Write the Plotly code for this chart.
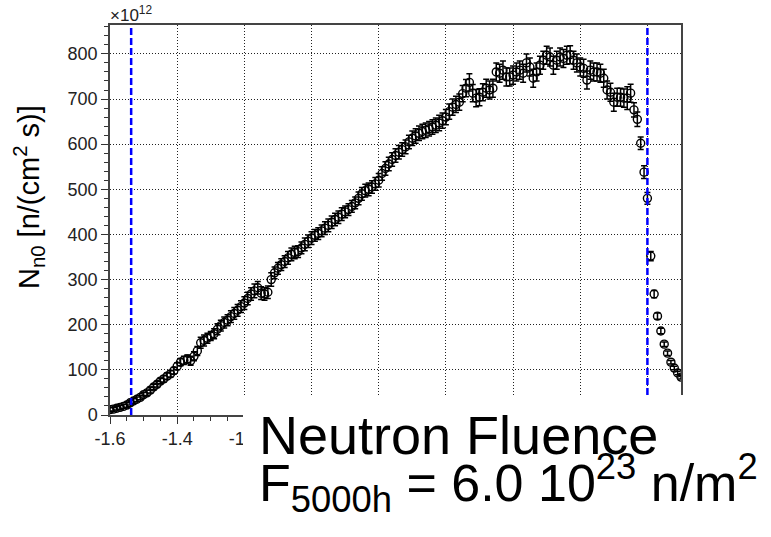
import plotly.graph_objects as go

# ---------------- data ----------------
x_start = -1.6
x_step = 0.01
flux = [
    12, 13, 15, 17, 19, 22, 27, 31, 35, 39,
    45, 49, 55, 62, 68, 75, 80, 86, 91, 98,
    108, 117, 121, 124, 120, 130, 142, 160, 165, 170,
    175, 180, 190, 198, 205, 210, 218, 225, 232, 240,
    248, 258, 268, 275, 282, 270, 268, 272, 300, 315,
    325, 333, 340, 348, 356, 360, 362, 370, 378, 385,
    392, 398, 402, 408, 414, 420, 427, 433, 438, 445,
    450, 455, 462, 470, 480, 490, 497, 500, 505, 512,
    520, 535, 546, 556, 566, 575, 582, 588, 594, 605,
    613, 618, 624, 628, 631, 634, 638, 642, 647, 652,
    660, 672, 682, 688, 693, 712, 724, 737, 713, 702,
    704, 715, 724, 720, 724, 760, 757, 764, 749, 749,
    753, 760, 764, 757, 780, 771, 746, 760, 775, 786,
    797, 793, 775, 786, 793, 790, 797, 798, 786, 780,
    771, 768, 742, 764, 760, 760, 757, 746, 720, 715,
    693, 704, 704, 702, 702, 713, 676, 655, 602, 538,
    480, 352, 268, 219, 186, 157, 137, 117, 104, 93,
    84,
]
flux_err = [
    4, 4, 4, 4, 4, 5, 5, 5, 5, 5,
    5, 6, 6, 6, 6, 6, 7, 7, 7, 7,
    8, 8, 9, 9, 10, 10, 10, 12, 12, 11,
    10, 11, 12, 12, 12, 12, 13, 13, 13, 13,
    14, 14, 14, 15, 14, 14, 14, 14, 15, 13,
    13, 13, 13, 14, 14, 14, 13, 13, 14, 14,
    14, 13, 13, 13, 14, 14, 14, 14, 14, 14,
    13, 13, 13, 13, 14, 14, 14, 14, 14, 14,
    15, 15, 15, 15, 15, 15, 15, 15, 15, 15,
    16, 16, 16, 16, 16, 16, 16, 16, 17, 17,
    17, 17, 18, 18, 18, 18, 19, 19, 19, 19,
    19, 19, 20, 20, 20, 20, 20, 20, 20, 20,
    20, 20, 20, 20, 20, 20, 20, 20, 20, 20,
    20, 20, 20, 20, 20, 20, 20, 20, 20, 20,
    20, 20, 20, 20, 20, 20, 20, 20, 20, 20,
    20, 20, 20, 20, 25, 20, 16, 16, 14, 14,
    13, 10, 8, 7, 6, 5, 5, 4, 4, 4,
    4,
]
x_pos = [round(x_start + x_step * i, 3) for i in range(len(flux))]

boundaries = [-1.537, 0.0]
x_tickvals = [-1.6, -1.4, -1.2, -1.0, -0.8, -0.6, -0.4, -0.2, 0.0]
# labels right of -1.2 are hidden behind the text box in the reference
x_ticktext = ["-1.6", "-1.4", "-1.2", "", "", "", "", "", ""]
y_tickvals = [0, 100, 200, 300, 400, 500, 600, 700, 800]

FONT = "Liberation Sans, Arial, Helvetica, sans-serif"
W, H = 771, 537
L, R, T, B = 110, 681, 25, 415


def px(xp):
    return (xp - L) / (R - L)


def py(yp):
    return (B - yp) / (B - T)


fig = go.Figure()
fig.add_trace(go.Scatter(
    x=x_pos, y=flux, mode="markers",
    marker=dict(symbol="circle-open", size=8, color="black", line=dict(width=1.4, color="black")),
    error_y=dict(type="data", array=flux_err, visible=True, color="black", thickness=1.5, width=3),
    showlegend=False, cliponaxis=True,
))

shapes = []
for b in boundaries:
    shapes.append(dict(type="line", xref="x", yref="paper", x0=b, x1=b, y0=0, y1=1,
                       line=dict(color="#0000ff", width=2.5, dash="7px,3px"), layer="above"))
# white box hiding the lower-right corner
shapes.append(dict(type="rect", xref="paper", yref="paper",
                   x0=px(243), x1=px(W + 5), y0=py(H + 5), y1=py(395),
                   fillcolor="white", line=dict(width=0), layer="above"))

annotations = [
    dict(text="N<sub>n0</sub> [n/(cm<sup>2</sup> s)]", textangle=-90,
         xref="paper", yref="paper", x=px(29), y=py(197), xanchor="center", yanchor="middle",
         showarrow=False, font=dict(family=FONT, size=29, color="black")),
    dict(text="\u00d710<sup>12</sup>", xref="paper", yref="paper", x=px(108), y=py(27),
         xanchor="left", yanchor="bottom", showarrow=False,
         font=dict(family=FONT, size=17, color="#222")),
    dict(text="Neutron Fluence", xref="paper", yref="paper", x=px(257), y=py(403),
         xanchor="left", yanchor="top", showarrow=False,
         font=dict(family=FONT, size=54, color="black")),
    dict(text="F<sub>5000h</sub> = 6.0 10<sup>23</sup> n/m<sup>2</sup>", xref="paper", yref="paper",
         x=px(257), y=py(522), xanchor="left", yanchor="bottom", showarrow=False,
         font=dict(family=FONT, size=52, color="black")),
]

axis_common = dict(showline=True, linecolor="#444", linewidth=1.5, mirror=True,
                   ticks="outside", tickcolor="#333", ticklen=7, tickwidth=1,
                   showgrid=True, gridcolor="#222", gridwidth=1, griddash="1px,2px",
                   zeroline=False, tickfont=dict(family=FONT, size=18, color="#222"))

fig.update_layout(
    width=W, height=H,
    margin=dict(l=L, r=W - R, t=T, b=H - B, pad=0),
    paper_bgcolor="white", plot_bgcolor="white",
    shapes=shapes, annotations=annotations,
    xaxis=dict(range=[-1.6, 0.1], tickmode="array", tickvals=x_tickvals, ticktext=x_ticktext,
               minor=dict(tick0=-1.6, dtick=0.05, ticks="outside", ticklen=4, tickcolor="#333", showgrid=False),
               **axis_common),
    yaxis=dict(range=[0, 864], tickmode="array", tickvals=y_tickvals,
               minor=dict(tick0=0, dtick=20, ticks="outside", ticklen=4, tickcolor="#333", showgrid=False),
               **axis_common),
)

fig.write_html("out.html")
